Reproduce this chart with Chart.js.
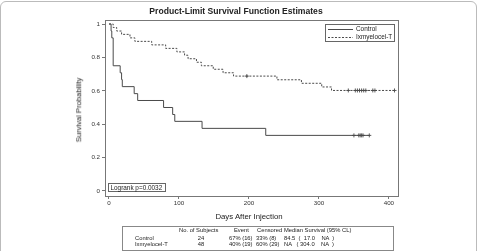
<!DOCTYPE html>
<html>
<head>
<meta charset="utf-8">
<script src="https://cdn.jsdelivr.net/npm/chart.js@4"></script>
<style>
  body { margin: 0; background: #fff; font-family: "Liberation Sans", Arial, sans-serif; color: #222; }
  #wrap { position: relative; width: 478px; height: 251px; overflow: hidden; }
  #frame { position: absolute; left: 0; top: 1px; width: 475px; height: 270px; border: 1px solid #bbb; border-radius: 6px; }
  #c { position: absolute; left: 0; top: 0; }
  .t { position: absolute; white-space: pre; line-height: 1; }
  #title { left: 0; width: 472px; top: 7px; text-align: center; font-weight: bold; font-size: 8.6px; }
  #ytitle { left: 79px; top: 110px; font-size: 7.6px; transform: translate(-50%, -50%) rotate(-90deg); }
  #xtitle { left: 0; width: 498px; top: 213px; text-align: center; font-size: 7.8px; }
  #tbl { position: absolute; left: 122px; top: 226px; width: 270px; height: 23px; border: 1px solid #888; }
  .c { font-size: 5.8px; transform: translateY(-50%); }
</style>
</head>
<body>
<div id="wrap">
  <div id="frame"></div>
  <canvas id="c" width="478" height="251"></canvas>
  <div class="t" id="title">Product-Limit Survival Function Estimates</div>
  <div class="t" id="ytitle">Survival Probability</div>
  <div class="t" id="xtitle">Days After Injection</div>
  <div id="tbl"></div>
</div>
<script>
// Kaplan-Meier step points (day, survival after event)
const controlDays = [0, 3, 4, 6, 16, 18, 19, 36, 41, 78, 91, 94, 133, 224, 372];
const controlSurv = [1, 0.958, 0.917, 0.75, 0.708, 0.667, 0.625, 0.583, 0.542, 0.5, 0.458, 0.417, 0.375, 0.333, 0.333];
const controlCensored = [350, 357, 359, 361, 363, 372];

const ixDays = [0, 6, 11, 18, 30, 37, 61, 81, 97, 108, 113, 125, 132, 149, 163, 178, 240, 275, 304, 318, 408];
const ixSurv = [1, 0.979, 0.958, 0.938, 0.917, 0.896, 0.875, 0.854, 0.833, 0.813, 0.792, 0.771, 0.75, 0.729, 0.708, 0.688, 0.666, 0.645, 0.623, 0.602, 0.602];
const ixCensored = [197, 342, 352, 355, 358, 361, 364, 367, 377, 380, 408];

const groupNames = ['Control', 'Ixmyelocel-T'];
const yTicks = [0, 0.2, 0.4, 0.6, 0.8, 1];
const xTicks = [0, 100, 200, 300, 400];
const logrankText = 'Logrank p=0.0032';

const tableHeader = ['No. of Subjects', 'Event', 'Censored', 'Median Survival (95% CL)'];
const tableRows = [
  ['Control', '24', '67% (16)', '33% (8)', '84.5  (  17.0    NA  )'],
  ['Ixmyelocel-T', '48', '40% (19)', '60% (29)', 'NA   ( 304.0    NA  )']
];

const lineColor = '#4a4a4a';
const axisColor = '#777';

function survAt(days, surv, t) {
  let s = surv[0];
  for (let i = 0; i < days.length; i++) {
    if (days[i] <= t) s = surv[i];
  }
  return s;
}

function toPoints(days, surv) {
  return days.map((d, i) => ({ x: d, y: surv[i] }));
}

function censorPoints(cens, days, surv) {
  return cens.map(d => ({ x: d, y: survAt(days, surv, d) }));
}

// summary table as text, positions relative to the box
const tbl = document.getElementById('tbl');
function addCell(text, left, top, center) {
  const s = document.createElement('div');
  s.className = 't c';
  s.textContent = text;
  s.style.top = top + 'px';
  if (center) {
    s.style.left = (left - 15) + 'px';
    s.style.width = '30px';
    s.style.textAlign = 'center';
  } else {
    s.style.left = left + 'px';
  }
  tbl.appendChild(s);
}
const headLeft = [56, 111, 134, 161];
tableHeader.forEach((h, i) => addCell(h, headLeft[i], 3.5, false));
const rowLeft = [12, 78, 106, 133, 161];
tableRows.forEach((r, ri) => {
  r.forEach((v, i) => addCell(v, rowLeft[i], 11.5 + ri * 6.5, i === 1));
});

const extras = {
  id: 'extras',
  afterDraw(chart) {
    const ctx = chart.ctx;
    const a = chart.chartArea;
    ctx.save();
    // plot frame
    ctx.strokeStyle = axisColor;
    ctx.lineWidth = 1;
    ctx.strokeRect(Math.round(a.left) + 0.5, Math.round(a.top) + 0.5, Math.round(a.right - a.left), Math.round(a.bottom - a.top));

    ctx.font = '6.4px "Liberation Sans", Arial, sans-serif';
    ctx.textBaseline = 'middle';
    ctx.fillStyle = '#222';

    // legend box
    const lx = 325.5, ly = 24.5, lw = 69, lh = 17;
    ctx.strokeStyle = '#666';
    ctx.strokeRect(lx, ly, lw, lh);
    ctx.strokeStyle = lineColor;
    ctx.beginPath();
    ctx.moveTo(328, 29.5); ctx.lineTo(353, 29.5);
    ctx.stroke();
    ctx.setLineDash([2, 1.5]);
    ctx.beginPath();
    ctx.moveTo(328, 37.5); ctx.lineTo(353, 37.5);
    ctx.stroke();
    ctx.setLineDash([]);
    ctx.textAlign = 'left';
    ctx.fillText(groupNames[0], 356, 29.5);
    ctx.fillText(groupNames[1], 356, 37.5);

    // logrank box
    ctx.strokeStyle = '#666';
    ctx.strokeRect(108.5, 183.5, 57, 8);
    ctx.fillText(logrankText, 110.5, 187.8);
    ctx.restore();
  }
};

new Chart(document.getElementById('c'), {
  type: 'scatter',
  data: {
    datasets: [
      {
        label: groupNames[0],
        data: toPoints(controlDays, controlSurv),
        showLine: true,
        stepped: true,
        borderColor: lineColor,
        borderWidth: 1,
        pointRadius: 0
      },
      {
        label: groupNames[1],
        data: toPoints(ixDays, ixSurv),
        showLine: true,
        stepped: true,
        borderColor: lineColor,
        borderWidth: 1,
        borderDash: [2, 1.5],
        pointRadius: 0
      },
      {
        label: 'Control censored',
        data: censorPoints(controlCensored, controlDays, controlSurv),
        pointStyle: 'cross',
        pointRadius: 2,
        borderColor: lineColor,
        borderWidth: 0.9
      },
      {
        label: 'Ixmyelocel-T censored',
        data: censorPoints(ixCensored, ixDays, ixSurv),
        pointStyle: 'cross',
        pointRadius: 2,
        borderColor: lineColor,
        borderWidth: 0.9
      }
    ]
  },
  options: {
    responsive: false,
    animation: false,
    events: [],
    layout: { padding: { left: 0, top: 20, right: 80, bottom: 0 } },
    plugins: { legend: { display: false }, title: { display: false }, tooltip: { enabled: false } },
    scales: {
      x: {
        type: 'linear',
        min: -5.7,
        max: 413,
        afterBuildTicks: s => { s.ticks = xTicks.map(v => ({ value: v })); },
        afterFit: s => { s.height = 55; },
        grid: { display: true, drawOnChartArea: false, drawTicks: true, tickLength: 3, color: axisColor },
        border: { display: true, color: axisColor },
        ticks: { color: '#333', font: { size: 6.2, family: '"Liberation Sans", Arial, sans-serif' }, padding: 1, maxRotation: 0 }
      },
      y: {
        type: 'linear',
        min: -0.03,
        max: 1.024,
        afterBuildTicks: s => { s.ticks = yTicks.map(v => ({ value: v })); },
        afterFit: s => { s.width = 105; },
        grid: { display: true, drawOnChartArea: false, drawTicks: true, tickLength: 3, color: axisColor },
        border: { display: true, color: axisColor },
        ticks: { color: '#333', font: { size: 6.2, family: '"Liberation Sans", Arial, sans-serif' }, padding: 2, callback: v => String(v) }
      }
    }
  },
  plugins: [extras]
});
</script>
</body>
</html>
